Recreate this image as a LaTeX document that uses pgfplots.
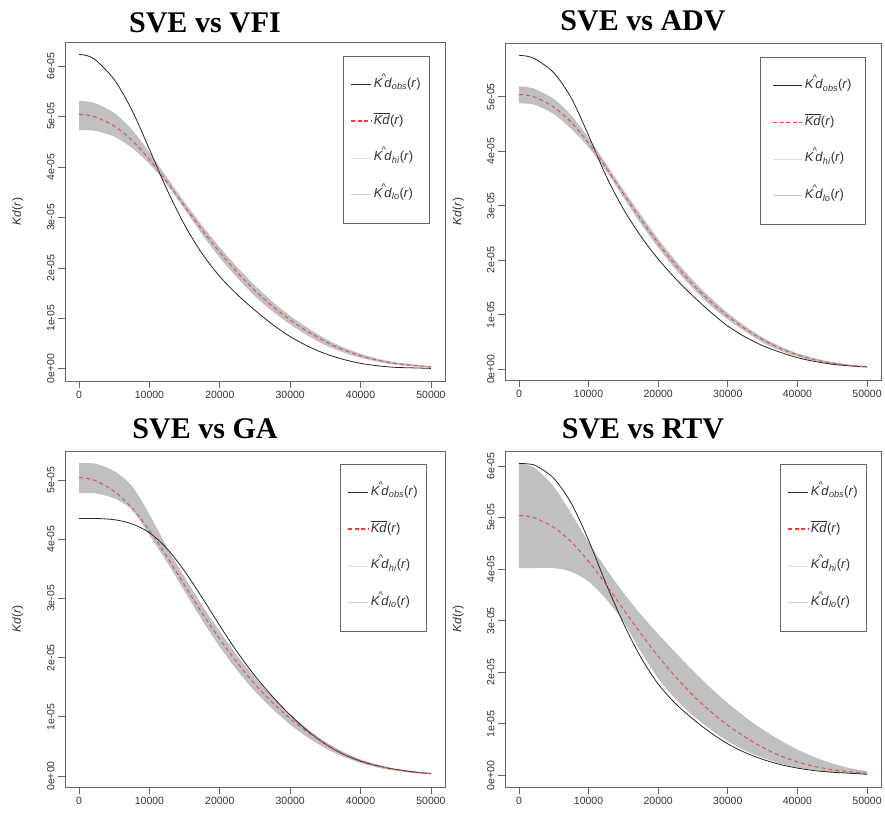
\documentclass[border=0pt]{standalone}
\usepackage{fontspec}
\setmainfont{Liberation Sans}
\newfontfamily\titlefont{Liberation Serif}
\usepackage{pgfplots}
\pgfplotsset{compat=1.18}
\usepgfplotslibrary{fillbetween}
\usepackage{pgfplotstable}

\definecolor{bandgray}{RGB}{192,192,192}
\definecolor{rred}{RGB}{228,80,80}
\definecolor{legred}{RGB}{240,60,60}
\definecolor{higray}{RGB}{222,222,222}
\definecolor{logray}{RGB}{200,200,200}

\pgfplotstableread{
x obs mean hi lo
0 6.23 5.04 5.31 4.73
1250 6.20 5.025 5.295 4.725
2500 6.10 4.98 5.25 4.71
5000 5.73 4.81 5.07 4.60
7500 5.13 4.53 4.74 4.38
10000 4.35 4.15 4.29 4.06
12500 3.55 3.70 3.79 3.65
15000 2.85 3.22 3.30 3.16
17500 2.28 2.75 2.84 2.66
20000 1.83 2.31 2.41 2.20
22500 1.47 1.91 2.01 1.80
25000 1.16 1.55 1.65 1.44
27500 0.88 1.24 1.33 1.14
30000 0.64 0.97 1.05 0.88
32500 0.45 0.74 0.81 0.66
35000 0.30 0.54 0.60 0.47
37500 0.19 0.38 0.43 0.33
40000 0.11 0.26 0.30 0.22
42500 0.06 0.17 0.20 0.14
45000 0.03 0.11 0.13 0.08
47500 0.02 0.07 0.09 0.05
50000 0.01 0.04 0.05 0.025
}\VFI

\pgfplotstableread{
x obs mean hi lo
0 5.76 5.04 5.19 4.88
1250 5.74 5.025 5.175 4.87
2500 5.68 4.98 5.13 4.84
5000 5.44 4.81 4.96 4.68
7500 4.98 4.53 4.66 4.41
10000 4.29 4.15 4.24 4.07
12500 3.55 3.70 3.77 3.64
15000 2.94 3.22 3.29 3.15
17500 2.44 2.75 2.83 2.67
20000 2.02 2.31 2.39 2.23
22500 1.66 1.91 1.99 1.83
25000 1.34 1.55 1.63 1.48
27500 1.05 1.24 1.31 1.17
30000 0.79 0.97 1.03 0.91
32500 0.59 0.74 0.79 0.69
35000 0.43 0.54 0.58 0.49
37500 0.31 0.38 0.42 0.34
40000 0.21 0.26 0.29 0.23
42500 0.14 0.17 0.20 0.15
45000 0.09 0.11 0.13 0.09
47500 0.06 0.07 0.08 0.05
50000 0.04 0.04 0.05 0.03
}\ADV

\pgfplotstableread{
x obs mean hi lo
0 4.35 5.04 5.29 4.78
1250 4.35 5.025 5.285 4.78
2500 4.35 4.98 5.27 4.77
5000 4.33 4.81 5.15 4.69
7500 4.26 4.53 4.90 4.50
10000 4.11 4.15 4.42 4.07
12500 3.84 3.70 3.86 3.61
15000 3.46 3.22 3.36 3.12
17500 3.01 2.75 2.88 2.63
20000 2.54 2.31 2.44 2.18
22500 2.09 1.91 2.03 1.78
25000 1.69 1.55 1.66 1.43
27500 1.34 1.24 1.33 1.13
30000 1.03 0.97 1.04 0.87
32500 0.76 0.74 0.79 0.65
35000 0.54 0.54 0.58 0.47
37500 0.37 0.38 0.41 0.33
40000 0.25 0.26 0.28 0.22
42500 0.17 0.17 0.19 0.14
45000 0.11 0.11 0.12 0.09
47500 0.07 0.07 0.08 0.05
50000 0.04 0.04 0.05 0.03
}\GA

\pgfplotstableread{
x obs mean hi lo
0 6.05 5.04 6.05 4.02
1250 6.04 5.025 6.02 4.02
2500 6.00 4.98 5.94 4.02
5000 5.76 4.81 5.60 4.02
7500 5.28 4.53 5.08 3.95
10000 4.56 4.15 4.52 3.76
12500 3.72 3.70 4.01 3.42
15000 2.95 3.22 3.54 2.98
17500 2.29 2.75 3.12 2.40
20000 1.77 2.31 2.74 1.88
22500 1.39 1.91 2.38 1.48
25000 1.09 1.55 2.03 1.16
27500 0.83 1.24 1.70 0.89
30000 0.61 0.97 1.40 0.66
32500 0.44 0.74 1.13 0.48
35000 0.31 0.54 0.89 0.34
37500 0.21 0.38 0.68 0.23
40000 0.14 0.26 0.50 0.15
42500 0.09 0.17 0.35 0.10
45000 0.06 0.11 0.23 0.06
47500 0.04 0.07 0.14 0.04
50000 0.02 0.04 0.08 0.02
}\RTV

\newcommand{\Kh}[1]{\textit{K\kern-0.08em\raisebox{0.55em}{\scalebox{0.75}{\textasciicircum}}\kern-0.12em d}\textsubscript{\textit{#1}}(\textit{r})}
\newcommand{\Kbar}{$\overline{\mbox{\textit{Kd}}}$(\textit{r})}
\def\leglen{20pt}

\pgfplotsset{
  panel/.style={
    scale only axis,
    xmin=-2000, xmax=52000,
    axis line style={draw=black!60, line width=0.9pt},
    tick style={draw=black!60, line width=0.8pt},
    tick align=outside, major tick length=7pt,
    xtick pos=left, ytick pos=left,
    scaled x ticks=false, scaled y ticks=false,
    xtick={0,10000,20000,30000,40000,50000},
    xticklabels={0,10000,20000,30000,40000,50000},
    ytick={0,1,2,3,4,5,6},
    yticklabels={0e+00,1e-05,2e-05,3e-05,4e-05,5e-05,6e-05},
    ticklabel style={font=\fontsize{10.5}{12}\selectfont, text=black!80},
    yticklabel style={rotate=90, anchor=south},
    ylabel={\textit{Kd}(\textit{r})},
    ylabel style={at={(axis description cs:-0.124,0.5)}, anchor=center, font=\fontsize{12}{14}\selectfont, text=black!80},
    legend cell align=left,
    legend style={anchor=north east, draw=black!60, line width=0.8pt,
      inner xsep=7pt, inner ysep=21pt, row sep=21.7pt,
      font=\fontsize{13}{14}\selectfont,
      nodes={inner sep=2pt, text height=8pt, text depth=3pt, text=black!80}},
  },
}

\newcommand{\drawpanel}[2]{%
  \addplot[name path=hi#2, draw=none, smooth, forget plot] table[x=x,y=hi]{#1};
  \addplot[name path=lo#2, draw=none, smooth, forget plot] table[x=x,y=lo]{#1};
  \addplot[bandgray, draw=none, forget plot] fill between[of=hi#2 and lo#2];
  \addplot[black!85, line width=0.8pt, smooth, forget plot] table[x=x,y=obs]{#1};
  \addplot[rred, line width=1pt, dash pattern=on 4pt off 3pt, smooth, forget plot] table[x=x,y=mean]{#1};
  \addlegendimage{legend image code/.code={\draw[black!85, line width=0.8pt, solid] (0pt,0.3pt) -- (\leglen,0.3pt);}}
  \addlegendentry{\Kh{obs}}
  \addlegendimage{legend image code/.code={\draw[color=legred, line width=1.3pt, dash pattern=on 4pt off 2.5pt] (0pt,0.5pt) -- (\leglen,0.5pt);}}
  \addlegendentry{\Kbar}
  \addlegendimage{legend image code/.code={\draw[higray, line width=1pt, solid] (0pt,0.3pt) -- (\leglen,0.3pt);}}
  \addlegendentry{\Kh{hi}}
  \addlegendimage{legend image code/.code={\draw[logray, line width=1pt, solid] (0pt,0.3pt) -- (\leglen,0.3pt);}}
  \addlegendentry{\Kh{lo}}
}

\begin{document}
\begin{tikzpicture}

\def\leglen{20pt}
\begin{axis}[panel, at={(65pt,-381pt)}, anchor=south west, width=380pt, height=339pt,
  ymin=-0.24, ymax=6.475,
  legend style={at={(axis description cs:0.9605,0.9587)}}]
\drawpanel{\VFI}{a}
\end{axis}

\def\leglen{29pt}
\begin{axis}[panel, at={(505pt,-380pt)}, anchor=south west, width=376pt, height=337pt,
  ymin=-0.2, ymax=5.985,
  legend style={at={(axis description cs:0.960,0.958)}, inner xsep=12pt}]
\drawpanel{\ADV}{b}
\end{axis}

\def\leglen{20pt}
\begin{axis}[panel, at={(65pt,-787pt)}, anchor=south west, width=380pt, height=336pt,
  ymin=-0.186, ymax=5.49,
  legend style={at={(axis description cs:0.9526,0.9613)}}]
\drawpanel{\GA}{c}
\end{axis}

\begin{axis}[panel, at={(505pt,-787pt)}, anchor=south west, width=376pt, height=336pt,
  ymin=-0.227, ymax=6.29,
  legend style={at={(axis description cs:0.9628,0.9613)}}]
\drawpanel{\RTV}{d}
\end{axis}

\node[font=\titlefont\bfseries\fontsize{30}{30}\selectfont, anchor=base] at (205pt,-32pt) {SVE vs VFI};
\node[font=\titlefont\bfseries\fontsize{30}{30}\selectfont, anchor=base] at (643pt,-30pt) {SVE vs ADV};
\node[font=\titlefont\bfseries\fontsize{30}{30}\selectfont, anchor=base] at (205pt,-438pt) {SVE vs GA};
\node[font=\titlefont\bfseries\fontsize{30}{30}\selectfont, anchor=base] at (643pt,-438pt) {SVE vs RTV};

\pgfresetboundingbox
\path[use as bounding box] (0pt,0pt) rectangle (885pt,-812pt);
\end{tikzpicture}
\end{document}
